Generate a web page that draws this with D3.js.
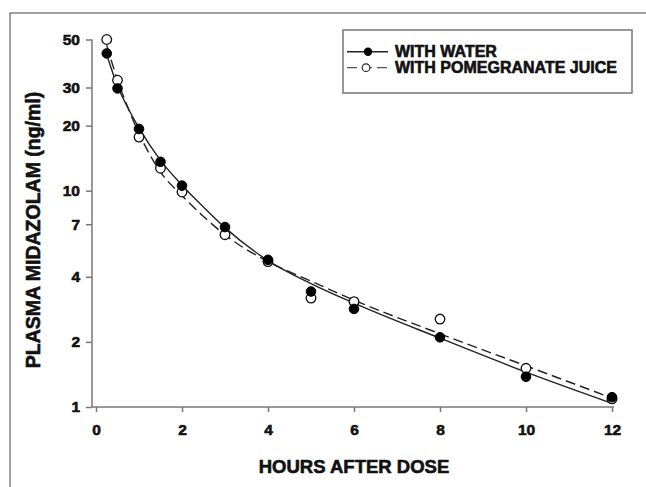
<!DOCTYPE html>
<html>
<head>
<meta charset="utf-8">
<script src="https://cdn.jsdelivr.net/npm/d3@7"></script>
<style>
  html, body { margin: 0; padding: 0; background: #fff; }
  svg { display: block; }
  text { font-family: "Liberation Sans", Arial, sans-serif; font-weight: bold; fill: #111; stroke: #111; stroke-width: 0.6px; }
</style>
</head>
<body>
<svg id="chart" width="646" height="487"></svg>
<script>
// ---- data ----
const hours = [0.25, 0.5, 1, 1.5, 2, 3, 4, 5, 6, 8, 10, 12];
const waterValues = [43.1, 29.7, 19.3, 13.6, 10.55, 6.79, 4.79, 3.42, 2.84, 2.10, 1.38, 1.11];
const juiceValues = [50.0, 32.4, 17.7, 12.7, 9.86, 6.26, 4.70, 3.19, 3.07, 2.55, 1.51, 1.09];

const fitHours = [0.25, 0.5, 0.75, 1, 1.5, 2, 2.5, 3, 4, 5, 6, 8, 10, 12];
const waterFit = [42.5, 30.5, 24.0, 19.5, 13.8, 10.6, 8.4, 6.75, 4.75, 3.72, 3.02, 2.08, 1.45, 1.04];
const juiceFit = [47.0, 32.5, 24.0, 18.4, 12.2, 9.5, 7.6, 6.25, 4.7, 3.82, 3.12, 2.18, 1.55, 1.10];

const xTicks = [0, 2, 4, 6, 8, 10, 12];
const yTicks = [1, 2, 4, 7, 10, 20, 30, 50];
const seriesNames = ["WITH WATER", "WITH POMEGRANATE JUICE"];
const xTitle = "HOURS AFTER DOSE";
const yTitle = "PLASMA MIDAZOLAM (ng/ml)";

// ---- drawing ----
const svg = d3.select("#chart");

// outer frame
svg.append("rect").attr("x", 10).attr("y", 13).attr("width", 700).attr("height", 520)
  .attr("fill", "none").attr("stroke", "#444").attr("stroke-width", 1);

const x = d3.scaleLinear().domain([0, 12]).range([96, 612]);
const y = d3.scaleLog().domain([1, 50]).range([407, 39.5]);
const axisX0 = 92;

// axes
const axisColor = "#777";
const gx = svg.append("g").attr("transform", "translate(0,407)")
  .call(d3.axisBottom(x).tickValues(xTicks).tickFormat(d3.format("d")).tickSize(5).tickSizeOuter(0).tickPadding(12));
gx.select(".domain").remove();
gx.append("line").attr("x1", axisX0).attr("x2", 614).attr("y1", 0).attr("y2", 0)
  .attr("stroke", axisColor).attr("stroke-width", 1.5);
gx.selectAll(".tick line").attr("stroke", axisColor).attr("stroke-width", 1.5);
gx.selectAll(".tick text").attr("font-size", 15.5).style("fill", "#111")
  .attr("font-family", "Liberation Sans, Arial, sans-serif").attr("font-weight", "bold");

const gy = svg.append("g").attr("transform", `translate(${axisX0},0)`)
  .call(d3.axisLeft(y).tickValues(yTicks).tickFormat(d3.format("d")).tickSize(6).tickSizeOuter(0).tickPadding(6));
gy.select(".domain").remove();
gy.append("line").attr("x1", 0).attr("x2", 0).attr("y1", y(50)).attr("y2", 407)
  .attr("stroke", axisColor).attr("stroke-width", 1.5);
gy.selectAll(".tick line").attr("stroke", axisColor).attr("stroke-width", 1.5);
gy.selectAll(".tick text").attr("font-size", 15.5).style("fill", "#111")
  .attr("font-family", "Liberation Sans, Arial, sans-serif").attr("font-weight", "bold");

// titles
svg.append("text").attr("x", (x(0) + x(12)) / 2).attr("y", 473)
  .attr("text-anchor", "middle").attr("font-size", 18.5).text(xTitle);
svg.append("text").attr("transform", "translate(40,230) rotate(-90)")
  .attr("text-anchor", "middle").attr("font-size", 19.5).text(yTitle);

// fitted curves
const lineGen = d3.line().x(d => x(d[0])).y(d => y(d[1])).curve(d3.curveMonotoneX);
svg.append("path").datum(fitHours.map((t, i) => [t, juiceFit[i]]))
  .attr("d", lineGen).attr("fill", "none").attr("stroke", "#222").attr("stroke-width", 1.4)
  .attr("stroke-dasharray", "10,5");
svg.append("path").datum(fitHours.map((t, i) => [t, waterFit[i]]))
  .attr("d", lineGen).attr("fill", "none").attr("stroke", "#222").attr("stroke-width", 1.4);

// points
const r = 4.8;
svg.append("g").selectAll("circle").data(hours.map((t, i) => [t, juiceValues[i]])).join("circle")
  .attr("cx", d => x(d[0])).attr("cy", d => y(d[1])).attr("r", r)
  .attr("fill", "#fff").attr("stroke", "#111").attr("stroke-width", 1.3);
svg.append("g").selectAll("circle").data(hours.map((t, i) => [t, waterValues[i]])).join("circle")
  .attr("cx", d => x(d[0])).attr("cy", d => y(d[1])).attr("r", r)
  .attr("fill", "#000").attr("stroke", "#000").attr("stroke-width", 1);

// legend
const lg = svg.append("g");
lg.append("rect").attr("x", 343).attr("y", 30).attr("width", 289).attr("height", 63)
  .attr("fill", "#fff").attr("stroke", "#777").attr("stroke-width", 1.5);
const rows = [51.7, 67.7];
// water row
lg.append("line").attr("x1", 347).attr("x2", 388).attr("y1", rows[0]).attr("y2", rows[0])
  .attr("stroke", "#222").attr("stroke-width", 1.5);
lg.append("circle").attr("cx", 368).attr("cy", rows[0]).attr("r", 4.2).attr("fill", "#000");
// juice row
lg.append("line").attr("x1", 347).attr("x2", 390).attr("y1", rows[1]).attr("y2", rows[1])
  .attr("stroke", "#555").attr("stroke-width", 1.2).attr("stroke-dasharray", "10,5");
lg.append("circle").attr("cx", 366).attr("cy", rows[1]).attr("r", 3.8)
  .attr("fill", "#fff").attr("stroke", "#222").attr("stroke-width", 1.1);
seriesNames.forEach((name, i) => {
  lg.append("text").attr("x", 395).attr("y", rows[i] + 5.6).attr("font-size", 16).text(name);
});
</script>
</body>
</html>
